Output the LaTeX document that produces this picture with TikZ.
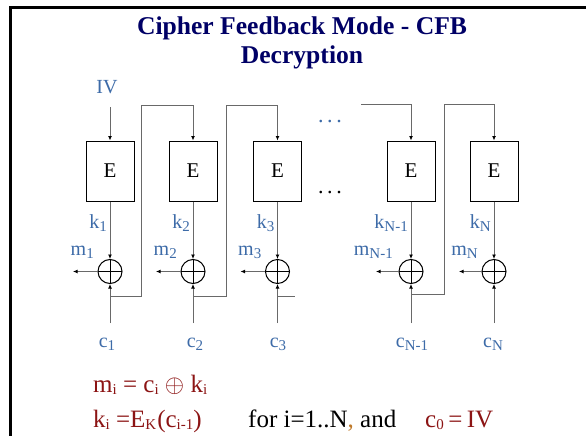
\documentclass[tikz,border=0pt]{standalone}
\usepackage{fontspec}
\setmainfont{Liberation Serif}
\usetikzlibrary{arrows.meta}
\definecolor{titleblue}{RGB}{0,0,102}
\definecolor{lblblue}{RGB}{61,107,168}
\definecolor{eqred}{RGB}{140,20,20}
\definecolor{commaor}{RGB}{190,120,40}
\definecolor{wire}{RGB}{105,105,105}
% lowered, smaller index for labels and formulas
\newcommand{\lsub}[1]{\raisebox{-3pt}{\fontsize{15}{15}\selectfont #1}}
\newcommand{\esub}[1]{\raisebox{-2pt}{\fontsize{15}{15}\selectfont #1}}
\begin{document}
\begin{tikzpicture}[x=1pt,y=-1pt,
  enc/.style={draw=black, line width=1pt, minimum width=48pt, minimum height=60pt,
    inner sep=0pt, font=\fontsize{21}{21}\selectfont},
  xorop/.style={circle, draw=black, line width=1pt, minimum size=24pt, inner sep=0pt,
    path picture={\draw[line width=0.8pt]
      (path picture bounding box.north) -- (path picture bounding box.south)
      (path picture bounding box.west) -- (path picture bounding box.east);}},
  wireln/.style={draw=wire, line width=1pt},
  arr/.style={wireln, -{Latex[length=4.5pt,width=4pt,color=black]}},
  lbl/.style={text=lblblue, inner sep=0pt, font=\fontsize{20}{20}\selectfont},
  eq/.style={text=eqred, inner sep=0pt, font=\fontsize{25}{25}\selectfont},
  ttl/.style={text=titleblue, inner sep=0pt, font=\fontsize{25.6}{26}\selectfont\bfseries}
]
\useasboundingbox (0,0) rectangle (586,436);
\fill[white] (0,0) rectangle (586,436);
% slide frame
\draw[line width=2.2pt] (10.5,437) -- (10.5,7.5) -- (587,7.5);

% title
\node[ttl] (t1) at (302,28) {Cipher Feedback Mode - CFB};
\node[ttl] (t2) at (302,57) {Decryption};

% cipher blocks
\node[enc] (e1) at (110,171) {E};
\node[enc] (e2) at (193,171) {E};
\node[enc] (e3) at (277.5,171) {E};
\node[enc] (e4) at (411,171) {E};
\node[enc] (e5) at (494,171) {E};

% xor operators
\node[xorop] (x1) at (110,271.5) {};
\node[xorop] (x2) at (193,271.5) {};
\node[xorop] (x3) at (277.5,271.5) {};
\node[xorop] (x4) at (411,271.5) {};
\node[xorop] (x5) at (494,271.5) {};

% initial vector
\node[lbl, anchor=base] (iv) at (107,93.5) {IV};
\coordinate (ivend) at (110,107);
\draw[arr] (ivend) -- (e1.north);

% keystream labels
\node[lbl, anchor=base east] (k1) at (107,228) {k\lsub{1}};
\node[lbl, anchor=base east] (k2) at (190,228) {k\lsub{2}};
\node[lbl, anchor=base east] (k3) at (274.5,228) {k\lsub{3}};
\node[lbl, anchor=base east] (k4) at (408,228) {k\lsub{N-1}};
\node[lbl, anchor=base east] (k5) at (491,228) {k\lsub{N}};

% plaintext labels
\node[lbl, anchor=base east] (m1) at (94,255) {m\lsub{1}};
\node[lbl, anchor=base east] (m2) at (177,255) {m\lsub{2}};
\node[lbl, anchor=base east] (m3) at (261.5,255) {m\lsub{3}};
\node[lbl, anchor=base east] (m4) at (393,255) {m\lsub{N-1}};
\node[lbl, anchor=base east] (m5) at (478,255) {m\lsub{N}};

% ciphertext labels
\node[lbl, anchor=base] (c1) at (107,347) {c\lsub{1}};
\node[lbl, anchor=base] (c2) at (195,347) {c\lsub{2}};
\node[lbl, anchor=base] (c3) at (278,347) {c\lsub{3}};
\node[lbl, anchor=base] (c4) at (412,347) {c\lsub{N-1}};
\node[lbl, anchor=base] (c5) at (493,347) {c\lsub{N}};

% omitted stages
\node[lbl, font=\fontsize{22}{22}\selectfont] (dt) at (330,122) {.\,.\,.};
\node[inner sep=0pt, font=\fontsize{22}{22}\selectfont] (db) at (330,193) {.\,.\,.};

% block output to xor
\foreach \i in {1,...,5} {
  \draw[arr] (e\i.south) -- (x\i.north);
}

% xor output to plaintext
\coordinate (p1) at (73,271.5);
\coordinate (p2) at (156,271.5);
\coordinate (p3) at (240.5,271.5);
\coordinate (p4) at (376,271.5);
\coordinate (p5) at (459,271.5);
\foreach \i in {1,...,5} {
  \draw[arr] (x\i.west) -- (p\i);
}

% ciphertext inputs
\coordinate (b1) at (110,323);
\coordinate (b2) at (193,323);
\coordinate (b3) at (277.5,323);
\coordinate (b4) at (411,323);
\coordinate (b5) at (494,323);
\foreach \i in {1,...,5} {
  \draw[arr] (b\i) -- (x\i.south);
}

% feedback of ciphertext into the next block
\coordinate (j1) at (110,296);
\coordinate (j2) at (193,296);
\coordinate (j3) at (277.5,296);
\coordinate (j4) at (411,294.5);
\coordinate (r1) at (141.3,105.5);
\coordinate (r2) at (226.3,105.5);
\coordinate (r4) at (444.3,104.5);
\coordinate (s3) at (295,296);
\coordinate (g4) at (361,104.5);
\draw[arr] (j1) -| (r1) -| (e2.north);
\draw[arr] (j2) -| (r2) -| (e3.north);
\draw[wireln] (j3) -- (s3);
\draw[arr] (g4) -| (e4.north);
\draw[arr] (j4) -| (r4) -| (e5.north);

% formulas
\node[eq, anchor=base west] (f1) at (93,392) {m\esub{i} = c\esub{i} $\oplus$ k\esub{i}};
\node[eq, anchor=base west] (f2) at (93,427.5) {k\esub{i} =E\esub{K}\kern1pt(c\esub{i-1})};
\node[inner sep=0pt, anchor=base west, font=\fontsize{25}{25}\selectfont] (f3) at (248,427.5)
  {for i=1..N\textcolor{commaor}{,} and};
\node[eq, anchor=base west] (f4) at (425,427.5) {c\esub{0}\hspace{4.5pt}=\hspace{4.5pt}IV};
\end{tikzpicture}
\end{document}
